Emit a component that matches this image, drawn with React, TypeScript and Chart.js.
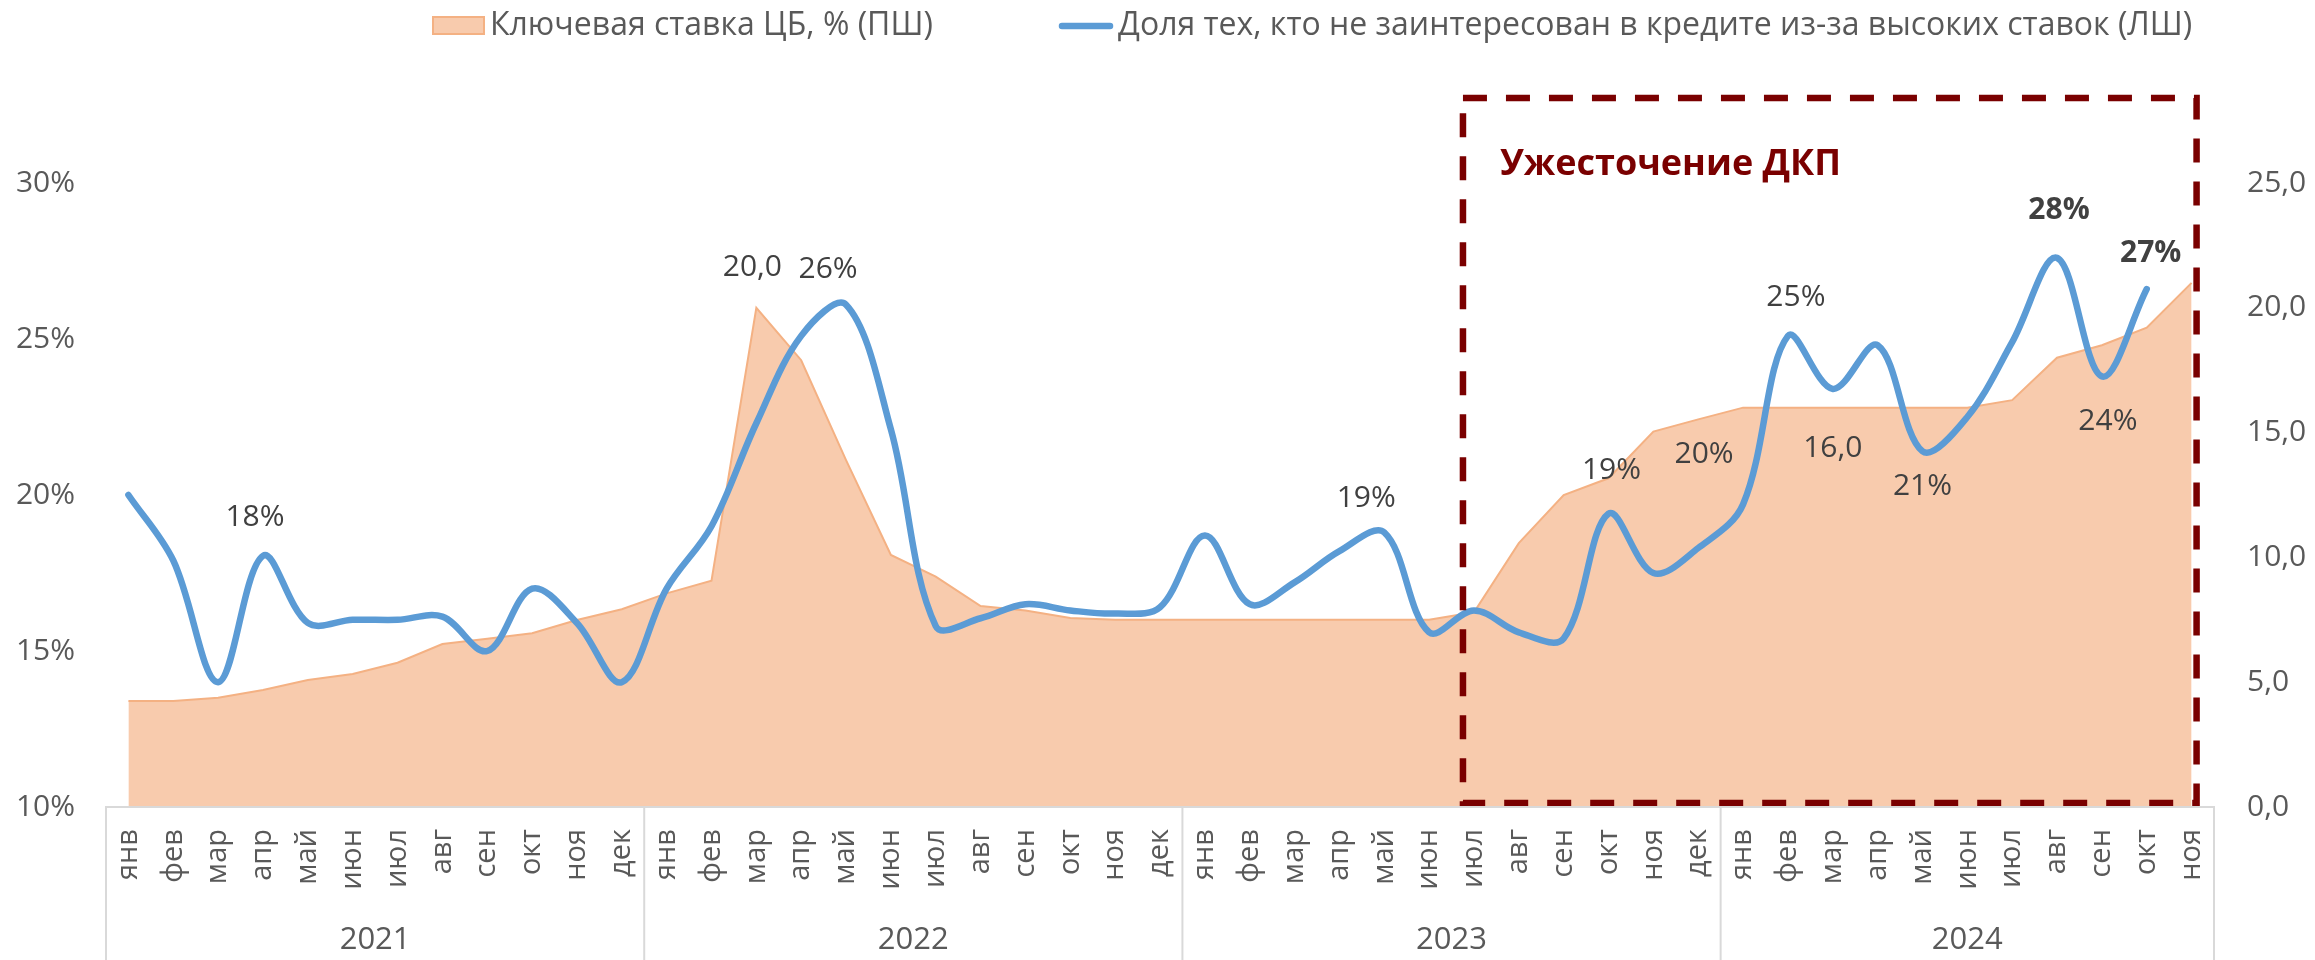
import React, { useEffect, useRef } from "react";
import { Chart, registerables } from "chart.js";

Chart.register(...registerables);

// ---------- DATA ----------
const monthNames = ["янв", "фев", "мар", "апр", "май", "июн", "июл", "авг", "сен", "окт", "ноя", "дек"];
const years = ["2021", "2022", "2023", "2024"];
const monthsPerYear = [12, 12, 12, 11];

// Key rate of the Central Bank, % (right axis)
const keyRate = [
  4.25, 4.25, 4.38, 4.69, 5.09, 5.33, 5.78, 6.53, 6.74, 6.96, 7.49, 7.92,
  8.56, 9.07, 20.0, 17.9, 13.9, 10.1, 9.23, 8.05, 7.87, 7.57, 7.5, 7.5,
  7.5, 7.5, 7.5, 7.5, 7.5, 7.5, 7.8, 10.57, 12.5, 13.17, 15.04, 15.53,
  16.0, 16.0, 16.0, 16.0, 16.0, 16.0, 16.3, 18.0, 18.5, 19.2, 21.0,
];

// Share of those not interested in credit because of high rates, % (left axis)
const shareNotInterested = [
  20.0, 17.9, 14.0, 18.05, 15.9, 16.0, 16.0, 16.1, 15.0, 17.0, 15.9, 14.0,
  17.0, 19.0, 22.3, 25.1, 26.1, 22.1, 15.8, 16.05, 16.5, 16.3, 16.2, 16.4,
  18.7, 16.5, 17.2, 18.2, 18.8, 15.6, 16.3, 15.6, 15.4, 19.4, 17.5, 18.3,
  19.7, 25.1, 23.4, 24.8, 21.4, 22.5, 24.9, 27.6, 23.8, 26.6, null,
];

const leftTicks = [10, 15, 20, 25, 30];
const rightTicks = [0, 5, 10, 15, 20, 25];

const legendLabels = [
  "Ключевая ставка ЦБ, % (ПШ)",
  "Доля тех, кто не заинтересован в кредите из-за высоких ставок (ЛШ)",
];
const annotationTitle = "Ужесточение ДКП";

// category labels built from the month / year lists
const categories: string[] = [];
const categoryYear: number[] = [];
years.forEach((_, k) => {
  for (let m = 0; m < monthsPerYear[k]; m++) {
    categories.push(monthNames[m]);
    categoryYear.push(k);
  }
});

// ---------- STYLE ----------
const FONT = '"Open Sans", "DejaVu Sans", sans-serif';
const AXIS_COLOR = "#595959";
const LABEL_COLOR = "#404040";
const BLUE = "#5B9BD5";
const AREA_FILL = "#F8CBAD";
const AREA_LINE = "#F4B183";
const DARK_RED = "#7A0000";
const GRID_GRAY = "#D9D9D9";

// which points get a data label, and where it sits relative to the point (px)
const labelPlacements = [
  { ds: 1, index: 3, dx: -8, dy: -38, bold: false },
  { ds: 1, index: 16, dx: -18, dy: -35, bold: false },
  { ds: 1, index: 28, dx: -18, dy: -34, bold: false },
  { ds: 1, index: 33, dx: 3, dy: -43, bold: false },
  { ds: 1, index: 36, dx: -39, dy: -50, bold: false },
  { ds: 1, index: 37, dx: 8, dy: -38, bold: false },
  { ds: 1, index: 40, dx: 0, dy: 35, bold: false },
  { ds: 1, index: 43, dx: 2, dy: -47, bold: true },
  { ds: 1, index: 44, dx: 6, dy: 45, bold: false },
  { ds: 1, index: 45, dx: 4, dy: -36, bold: true },
  { ds: 0, index: 14, dx: -4, dy: -40, bold: false },
  { ds: 0, index: 38, dx: 0, dy: 41, bold: false },
];

const fmtRate = (v: number) => v.toFixed(1).replace(".", ",");
const fmtShare = (v: number) => `${Math.round(v)}%`;

// ---------- PLUGINS ----------
const legendPlugin = {
  id: "customLegend",
  afterDraw(chart: any) {
    const { ctx } = chart;
    const y = 26;
    ctx.save();
    ctx.font = `32px ${FONT}`;
    ctx.textBaseline = "middle";
    ctx.fillStyle = AXIS_COLOR;
    // item 1: area swatch
    ctx.fillStyle = AREA_FILL;
    ctx.fillRect(433, 17, 51, 17);
    ctx.strokeStyle = AREA_LINE;
    ctx.lineWidth = 2;
    ctx.strokeRect(433, 17, 51, 17);
    ctx.fillStyle = AXIS_COLOR;
    ctx.fillText(legendLabels[0], 490, y);
    // item 2: line swatch
    ctx.strokeStyle = BLUE;
    ctx.lineWidth = 6.5;
    ctx.lineCap = "round";
    ctx.beginPath();
    ctx.moveTo(1062, y);
    ctx.lineTo(1110, y);
    ctx.stroke();
    ctx.fillText(legendLabels[1], 1118, y);
    ctx.restore();
  },
};

const yearAxisPlugin = {
  id: "yearAxis",
  afterDraw(chart: any) {
    const { ctx, chartArea } = chart;
    const xs = chart.scales.x;
    const step = xs.getPixelForValue(1) - xs.getPixelForValue(0);
    ctx.save();
    ctx.strokeStyle = GRID_GRAY;
    ctx.lineWidth = 2;
    ctx.font = `31px ${FONT}`;
    ctx.fillStyle = AXIS_COLOR;
    ctx.textAlign = "center";
    ctx.textBaseline = "middle";
    let start = 0;
    years.forEach((yr, k) => {
      const count = categoryYear.filter((c) => c === k).length;
      const left = xs.getPixelForValue(start) - step / 2;
      const right = xs.getPixelForValue(start + count - 1) + step / 2;
      ctx.beginPath();
      ctx.moveTo(left, chartArea.bottom);
      ctx.lineTo(left, chart.height);
      if (k === years.length - 1) {
        ctx.moveTo(right, chartArea.bottom);
        ctx.lineTo(right, chart.height);
      }
      ctx.stroke();
      ctx.fillText(yr, (left + right) / 2, chart.height - 20);
      start += count;
    });
    ctx.restore();
  },
};

const boxPlugin = {
  id: "tighteningBox",
  afterDatasetsDraw(chart: any) {
    const { ctx, chartArea } = chart;
    const xs = chart.scales.x;
    const left = xs.getPixelForValue(30) - 11;
    const right = xs.getPixelForValue(46) + 5;
    const top = chartArea.top - 85;
    const bottom = chartArea.bottom - 4;
    ctx.save();
    ctx.strokeStyle = DARK_RED;
    ctx.lineWidth = 6.5;
    ctx.setLineDash([24, 19]);
    ctx.strokeRect(left, top, right - left, bottom - top);
    ctx.setLineDash([]);
    ctx.fillStyle = DARK_RED;
    ctx.font = `bold 36px ${FONT}`;
    ctx.textBaseline = "alphabetic";
    ctx.fillText(annotationTitle, left + 37, top + 77);
    ctx.restore();
  },
};

const dataLabelPlugin = {
  id: "dataLabels",
  afterDatasetsDraw(chart: any) {
    const { ctx } = chart;
    ctx.save();
    ctx.textAlign = "center";
    ctx.textBaseline = "middle";
    labelPlacements.forEach((p) => {
      const pt = chart.getDatasetMeta(p.ds).data[p.index];
      const v = chart.data.datasets[p.ds].data[p.index] as number;
      const text = p.ds === 0 ? fmtRate(v) : fmtShare(v);
      ctx.font = `${p.bold ? "bold " : ""}30px ${FONT}`;
      ctx.fillStyle = LABEL_COLOR;
      ctx.fillText(text, pt.x + p.dx, pt.y + p.dy);
    });
    ctx.restore();
  },
};

export default function App() {
  const canvasRef = useRef<HTMLCanvasElement | null>(null);

  useEffect(() => {
    document.body.style.margin = "0";
    const canvas = canvasRef.current;
    if (!canvas) return;
    const chart = new Chart(canvas, {
      type: "line",
      data: {
        labels: categories,
        datasets: [
          {
            label: legendLabels[0],
            data: keyRate,
            yAxisID: "y1",
            backgroundColor: AREA_FILL,
            borderColor: AREA_LINE,
            borderWidth: 2,
            fill: "origin",
            tension: 0,
            pointRadius: 0,
            order: 2,
          },
          {
            label: legendLabels[1],
            data: shareNotInterested,
            yAxisID: "y",
            borderColor: BLUE,
            backgroundColor: BLUE,
            borderWidth: 6.5,
            borderCapStyle: "round",
            borderJoinStyle: "round",
            fill: false,
            tension: 0.35,
            pointRadius: 0,
            spanGaps: false,
            order: 1,
          },
        ],
      },
      options: {
        responsive: false,
        animation: false,
        events: [],
        layout: { padding: { top: 183, left: 0, right: 0, bottom: 0 } },
        plugins: {
          legend: { display: false },
          tooltip: { enabled: false },
          title: { display: false },
        },
        scales: {
          x: {
            type: "category",
            offset: true,
            grid: { display: false, drawTicks: false },
            border: { display: true, color: GRID_GRAY, width: 2, z: 1 },
            ticks: {
              autoSkip: false,
              minRotation: 90,
              maxRotation: 90,
              padding: 22,
              color: AXIS_COLOR,
              font: { family: FONT, size: 29 },
            },
            afterFit: (scale: any) => {
              scale.height = 153;
            },
          },
          y: {
            position: "left",
            min: leftTicks[0],
            max: leftTicks[leftTicks.length - 1],
            grid: { display: false, drawTicks: false },
            border: { display: false },
            ticks: {
              stepSize: leftTicks[1] - leftTicks[0],
              padding: 31,
              color: AXIS_COLOR,
              font: { family: FONT, size: 30 },
              callback: (v: any) => `${v}%`,
            },
            afterFit: (scale: any) => {
              scale.width = 106;
            },
          },
          y1: {
            position: "right",
            min: rightTicks[0],
            max: rightTicks[rightTicks.length - 1],
            grid: { display: false, drawTicks: false },
            border: { display: false },
            ticks: {
              stepSize: rightTicks[1] - rightTicks[0],
              padding: 33,
              color: AXIS_COLOR,
              font: { family: FONT, size: 30 },
              callback: (v: any) => fmtRate(Number(v)),
            },
            afterFit: (scale: any) => {
              scale.width = 101;
            },
          },
        },
      },
      plugins: [legendPlugin, yearAxisPlugin, boxPlugin, dataLabelPlugin],
    });
    return () => chart.destroy();
  }, []);

  return (
    <div style={{ width: 2315, height: 960 }}>
      <canvas ref={canvasRef} width={2315} height={960} style={{ display: "block" }} />
    </div>
  );
}
